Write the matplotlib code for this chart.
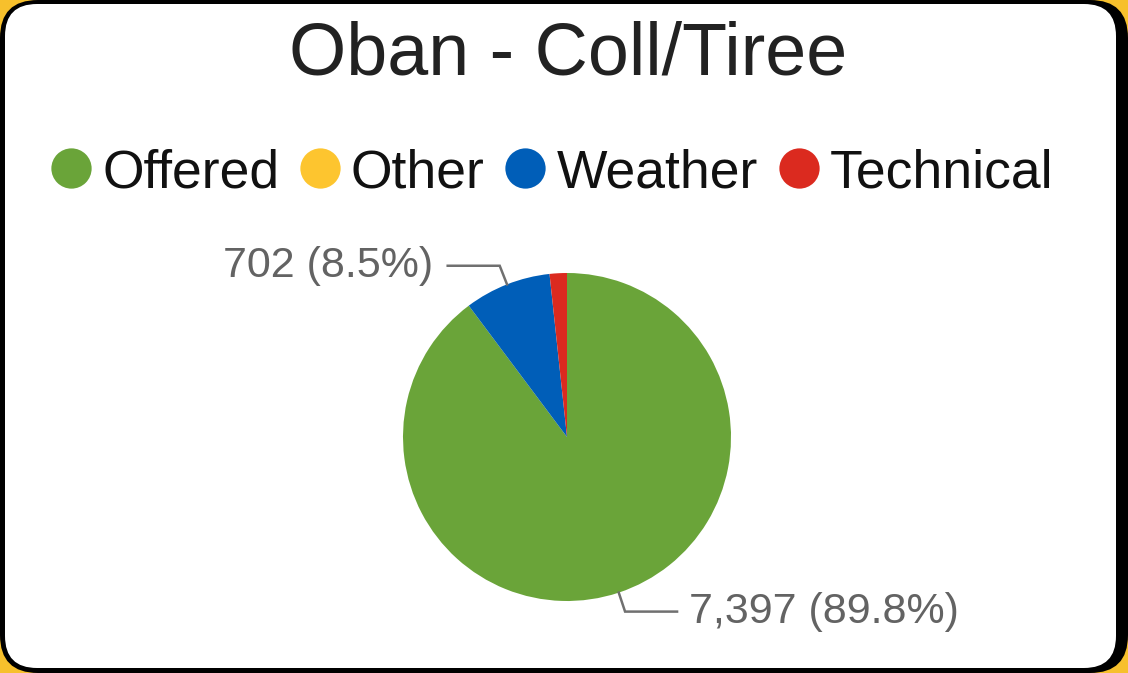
import numpy as np
import matplotlib.pyplot as plt
from matplotlib.patches import FancyBboxPatch
from matplotlib.lines import Line2D

plt.rcParams['font.family'] = ['Liberation Sans', 'DejaVu Sans']

title = "Oban - Coll/Tiree"
categories = ["Offered", "Other", "Weather", "Technical"]
values = [7397, 0, 702, 140]
colors = ["#6aa439", "#fdc52f", "#005eb8", "#db2a1f"]
labelled = ["Offered", "Weather"]

W, H = 1128, 673
fig = plt.figure(figsize=(W / 100, H / 100), dpi=100)
fig.patch.set_facecolor("#f7c02c")
ax = fig.add_axes([0, 0, 1, 1])


def py(y):
    # screen-style y (from top) to axes y
    return H - y


# card with black rim
ax.add_patch(FancyBboxPatch((0, 0), W, H, boxstyle="round,pad=0,rounding_size=38",
                            fc="black", ec="none"))
ax.add_patch(FancyBboxPatch((5, py(668)), 1111, 664, boxstyle="round,pad=0,rounding_size=32",
                            fc="white", ec="none"))

cx, cy, r = 567, py(437), 164
wedges, _ = ax.pie(values, colors=colors, startangle=90, counterclock=False,
                   center=(cx, cy), radius=r, frame=True,
                   wedgeprops=dict(linewidth=0))
ax.set_xlim(0, W)
ax.set_ylim(0, H)
ax.set_aspect("equal")
ax.axis("off")

total = sum(values)
for w, name, v in zip(wedges, categories, values):
    if name not in labelled:
        continue
    mid = np.deg2rad((w.theta1 + w.theta2) / 2)
    d = np.array([np.cos(mid), np.sin(mid)])
    p0 = np.array([cx, cy]) + r * d
    p1 = p0 + 20 * d
    side = 1 if d[0] >= 0 else -1
    p2 = p1 + np.array([side * 52, 0])
    ax.plot([p0[0], p1[0], p2[0]], [p0[1], p1[1], p2[1]], color="#707070", lw=1.8,
            solid_joinstyle="miter")
    gap = 12 if side > 0 else 15
    ax.text(p2[0] + side * gap, p2[1], f"{v:,} ({v / total * 100:.1f}%)",
            ha="left" if side > 0 else "right", va="center",
            fontsize=31, color="#636363")

fig.text(568 / W, 1 - 55 / H, title, ha="center", va="center", fontsize=53, color="#222222")

handles = [Line2D([], [], ls="none", marker="o", markersize=29, color=c, markeredgewidth=0)
           for c in colors]
fig.legend(handles, categories, loc="center", bbox_to_anchor=(552 / W, 1 - 173 / H),
           ncol=4, frameon=False, fontsize=38.5, handlelength=0.76, handletextpad=0.2,
           columnspacing=0.38, labelcolor="#111111")

fig.savefig("out.png", dpi=100, facecolor=fig.get_facecolor())
